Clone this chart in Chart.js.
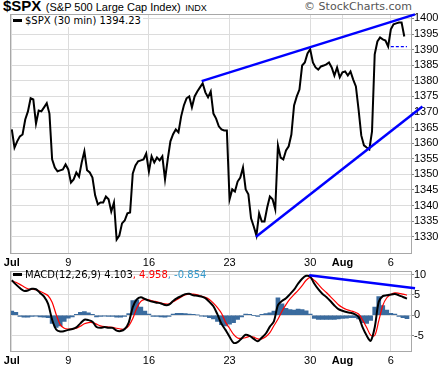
<!DOCTYPE html>
<html>
<head>
<meta charset="utf-8">
<script src="https://cdn.jsdelivr.net/npm/chart.js@4.4.0/dist/chart.umd.min.js"></script>
<style>
  body { margin: 0; background: #fff; width: 439px; height: 368px; position: relative; overflow: hidden; }
  canvas { position: absolute; left: 0; }
  #priceChart { top: 0; }
  #macdChart { top: 265px; }
  .title { position: absolute; left: 3px; top: -1px; white-space: nowrap; font-family: "Liberation Sans", Arial, sans-serif; line-height: 13px; }
  .title b { font-size: 15px; }
  .title .name { font-size: 11px; }
  .title .ex { font-size: 9px; }
  .copy { position: absolute; right: 27px; top: 0px; font-family: "DejaVu Sans", sans-serif; font-size: 11px; color: #555; white-space: nowrap; }
  .legend { position: absolute; left: 13px; font-family: "DejaVu Sans", sans-serif; font-size: 10px; white-space: nowrap; background: #fff; line-height: 12px; padding-right: 2px; }
  .legend i { display: inline-block; width: 9px; height: 3px; background: #000; vertical-align: middle; margin-right: 3px; position: relative; top: -1px; }
</style>
</head>
<body>
<div class="title"><b>$SPX</b> <span class="name">(S&amp;P 500 Large Cap Index)</span> <span class="ex">INDX</span></div>
<div class="copy">&copy; StockCharts.com</div>
<canvas id="priceChart" width="439" height="268"></canvas>
<canvas id="macdChart" width="439" height="103"></canvas>
<div class="legend" style="top:15px"><i></i>$SPX (30 min) 1394.23</div>
<div class="legend" style="top:269px; background:none"><i></i>MACD(12,26,9) 4.103<span style="color:#f00">, 4.958</span><span style="color:#3399cc">, -0.854</span></div>
<script>
// x axis is in trading days from Jul 2 (Jul 3 was a half day)
var tickDays = [0, 3.5, 8.5, 13.5, 18.5, 20.5, 23.5];
var tickLabels = ['Jul', '9', '16', '23', '30', 'Aug', '6'];
var boldLabels = ['Jul', 'Aug'];

var priceTicks = [1330, 1335, 1340, 1345, 1350, 1355, 1360, 1365, 1370, 1375, 1380, 1385, 1390, 1395, 1400];
var macdTicks = [-5, 0, 5, 10];

// $SPX closes, one value every 1/6 trading day
var priceStep = 1 / 6;
var spxClose = [
  1364.4, 1358.6, 1360.6, 1362.2, 1362.8, 1367.6, 1370.2, 1374.4, 1374.0, 1366.3,
  1370.5, 1370.2, 1371.5, 1372.8, 1369.5, 1354.8, 1352.2, 1351.0, 1351.3, 1351.6,
  1353.2, 1351.6, 1347.4, 1348.4, 1350.6, 1349.3, 1353.8, 1357.4, 1351.3, 1350.6,
  1349.0, 1343.3, 1340.4, 1341.0, 1341.0, 1342.9, 1342.0, 1338.1, 1341.0, 1329.1,
  1330.4, 1334.3, 1335.2, 1337.5, 1337.8, 1350.3, 1352.9, 1354.2, 1354.5, 1354.8,
  1356.7, 1350.9, 1355.8, 1353.8, 1355.4, 1354.5, 1355.8, 1348.4, 1354.8, 1360.6,
  1362.9, 1364.4, 1363.5, 1368.6, 1372.1, 1374.4, 1375.0, 1371.5, 1375.0, 1376.6,
  1377.9, 1379.2, 1376.3, 1374.7, 1376.6, 1369.5, 1367.9, 1365.4, 1364.4, 1364.1,
  1364.1, 1342.0, 1345.2, 1344.5, 1347.7, 1349.0, 1352.2, 1345.2, 1343.6, 1335.9,
  1333.3, 1330.4, 1337.5, 1334.9, 1334.9, 1339.4, 1342.9, 1342.0, 1338.8, 1359.3,
  1355.4, 1354.8, 1357.7, 1359.0, 1362.8, 1372.1, 1375.0, 1377.2, 1384.9, 1385.9,
  1388.8, 1390.1, 1385.9, 1384.3, 1383.6, 1384.6, 1384.9, 1385.3, 1385.9, 1384.3,
  1381.7, 1384.3, 1381.1, 1382.7, 1383.0, 1381.7, 1383.0, 1380.4, 1378.2, 1370.8,
  1362.5, 1359.3, 1358.6, 1358.0, 1363.8, 1388.5, 1392.6, 1393.9, 1393.3, 1392.9,
  1391.0, 1396.5, 1398.1, 1398.4, 1398.7, 1398.7, 1394.2
];

// trend lines, [day, price]
var upperTrend = [[11.77, 1379.9], [25.0, 1401.3]];
var lowerTrend = [[15.14, 1330.0], [25.46, 1371.8]];
var prevClose = [[23.5, 1390.99], [24.5, 1390.99]];

// MACD(12,26,9), one value every 1/4 trading day
var macdStep = 0.25;
var macdLine = [
  8.6, 7.6, 6.7, 6.0, 6.1, 6.5, 6.4, 5.5, 4.6, 2.8,
  -1.1, -3.5, -4.0, -3.9, -3.6, -3.4, -3.0, -2.0, -1.1, -1.2,
  -1.6, -2.9, -3.1, -2.9, -3.1, -3.1, -3.8, -3.9, -3.4, -1.8,
  2.0, 3.9, 4.4, 4.0, 3.6, 3.3, 3.1, 2.9, 2.5, 2.6,
  3.5, 4.2, 4.7, 5.2, 5.3, 4.9, 4.8, 4.6, 4.2, 3.3,
  2.2, 0.2, -2.1, -3.6, -5.3, -6.8, -6.6, -5.7, -4.8, -5.1,
  -5.8, -6.4, -5.5, -4.5, -2.8, -1.5, 2.5, 3.5, 4.2, 5.2,
  6.3, 7.8, 9.0, 9.7, 9.5, 7.8, 6.4, 5.3, 4.5, 3.5,
  2.4, 1.5, 1.1, 0.8, 0.6, 0.3, -0.4, -3.0, -5.0, -6.3,
  -3.0, 3.3, 4.7, 4.9, 5.1, 5.2, 4.9, 4.5, 4.1
];
var signalLine = [
  8.5, 8.1, 7.6, 7.0, 6.5, 6.4, 6.3, 5.9, 5.4, 4.8,
  3.2, 0.2, -2.3, -3.2, -3.4, -3.4, -3.2, -2.7, -2.1, -1.8,
  -1.8, -2.2, -2.6, -2.8, -2.9, -3.0, -3.2, -3.4, -3.4, -2.6,
  -0.8, 1.8, 3.4, 3.9, 3.8, 3.5, 3.3, 3.0, 2.8, 2.8,
  3.3, 3.9, 4.5, 5.0, 5.2, 5.2, 5.0, 4.7, 4.4, 3.9,
  3.0, 1.9, 0.5, -1.7, -3.2, -4.7, -5.6, -5.7, -5.5, -5.2,
  -5.4, -5.8, -5.8, -5.3, -4.3, -2.6, -1.0, 1.0, 2.6, 4.0,
  5.1, 6.1, 7.3, 8.6, 9.3, 8.6, 7.6, 6.5, 5.6, 4.6,
  3.6, 2.6, 1.9, 1.4, 1.1, 0.8, 0.3, -1.2, -3.0, -4.9,
  -5.0, -1.4, 2.4, 4.3, 5.1, 5.5, 5.4, 5.2, 4.96
];
var histValues = [
  1.0, 0.7, -0.3, -0.5, -0.5, -0.3, -0.2, -0.4, -0.5, -0.6,
  -2.0, -3.0, -2.6, -1.5, -0.7, -0.4, 0.2, 0.7, 0.9, 0.6,
  0.2, -0.4, -0.3, -0.2, -0.3, -0.3, -0.5, -0.5, -0.3, 0.4,
  3.6, 3.8, 2.0, 1.0, 0.3, -0.3, -0.3, -0.4, -0.5, -0.3,
  0.3, 0.5, 0.5, 0.4, 0.3, 0.2, 0.1, -0.2, -0.3, -0.6,
  -0.9, -1.5, -2.3, -2.6, -2.2, -1.8, -1.0, -0.4, 0.3, 0.2,
  -0.1, -0.3, 0.2, 0.4, 0.6, 1.0, 4.3, 2.8, 1.7, 1.4,
  1.3, 1.5, 1.4, 1.1, 0.3, -0.8, -1.0, -1.0, -1.0, -1.0,
  -1.0, -0.9, -0.8, -0.7, -0.6, -0.6, -0.9, -1.8, -2.0, -1.3,
  2.0, 4.6, 2.4, 1.3, 0.5, 0.3, -0.3, -0.6, -0.85
];
var macdTrend = [[18.44, 9.83], [25.0, 6.63]];

Chart.defaults.font.family = '"Liberation Sans", Arial, sans-serif';
Chart.defaults.font.size = 11;
Chart.defaults.color = '#000';

var GRID = '#dcdcdc';
var FRAME = '#a8a8a8';

function series(values, step) {
  return values.map(function (v, i) { return { x: i * step, y: v }; });
}
function pairs(list) {
  return list.map(function (p) { return { x: p[0], y: p[1] }; });
}

var framePlugin = {
  id: 'frame',
  beforeDatasetsDraw: function (chart) {
    var a = chart.chartArea, c = chart.ctx;
    c.save();
    c.strokeStyle = FRAME;
    c.lineWidth = 1;
    c.strokeRect(Math.round(a.left) - 0.5, Math.round(a.top) - 0.5, Math.round(a.right - a.left) + 1, Math.round(a.bottom - a.top) + 1);
    c.restore();
  }
};

function xScale() {
  return {
    type: 'linear',
    min: -0.05,
    max: 24.75,
    offset: false,
    afterBuildTicks: function (s) { s.ticks = tickDays.map(function (d) { return { value: d }; }); },
    afterFit: function (s) { s.height = s.options.fitHeight; },
    grid: { color: GRID, drawTicks: false, offset: false },
    border: { color: FRAME },
    ticks: {
      autoSkip: false,
      maxRotation: 0,
      padding: 3,
      callback: function (v) { return tickLabels[tickDays.indexOf(v)]; },
      font: function (ctx) {
        var lbl = ctx.tick ? tickLabels[tickDays.indexOf(ctx.tick.value)] : '';
        return { size: 11, weight: boldLabels.indexOf(lbl) >= 0 ? 'bold' : 'normal' };
      }
    }
  };
}

function yScale(min, max, values) {
  return {
    type: 'linear',
    position: 'right',
    min: min,
    max: max,
    afterBuildTicks: function (s) { s.ticks = values.map(function (v) { return { value: v }; }); },
    afterFit: function (s) { s.width = 28; },
    grid: { color: GRID, tickLength: 3, tickColor: '#888' },
    border: { color: FRAME },
    ticks: { padding: 0, font: { size: 11 }, callback: function (v) { return String(v); } }
  };
}

var baseOptions = {
  responsive: false,
  animation: false,
  devicePixelRatio: 1,
  plugins: { legend: { display: false }, tooltip: { enabled: false } },
  elements: { point: { radius: 0 } }
};

var px = xScale(); px.fitHeight = 15;
new Chart('priceChart', {
  type: 'line',
  data: {
    datasets: [
      { data: pairs(upperTrend), borderColor: '#0000ff', borderWidth: 2.5, clip: false },
      { data: pairs(lowerTrend), borderColor: '#0000ff', borderWidth: 2.5, clip: false },
      { data: pairs(prevClose), borderColor: '#0000ff', borderWidth: 1.2, borderDash: [3, 2] },
      { data: series(spxClose, priceStep), borderColor: '#000', borderWidth: 2, tension: 0 }
    ]
  },
  options: Object.assign({}, baseOptions, {
    layout: { padding: { top: 15, left: 11, right: 0, bottom: 0 } },
    scales: { x: px, y: yScale(1324.8, 1401.1, priceTicks) }
  }),
  plugins: [framePlugin]
});

var mx = xScale(); mx.fitHeight = 17; mx.ticks.padding = 3;
new Chart('macdChart', {
  data: {
    datasets: [
      { type: 'line', data: pairs(macdTrend), borderColor: '#0000ff', borderWidth: 2.5, clip: false },
      { type: 'line', data: series(macdLine, macdStep), borderColor: '#000', borderWidth: 2, tension: 0.3 },
      { type: 'line', data: series(signalLine, macdStep), borderColor: '#ff0000', borderWidth: 1.2, tension: 0.3 },
      { type: 'bar', data: series(histValues, macdStep), backgroundColor: '#3a6b9e', barThickness: 4 }
    ]
  },
  options: Object.assign({}, baseOptions, {
    layout: { padding: { top: 6, left: 11, right: 0, bottom: 0 } },
    scales: { x: mx, y: yScale(-8.8, 10.74, macdTicks) }
  }),
  plugins: [framePlugin]
});
</script>
</body>
</html>
